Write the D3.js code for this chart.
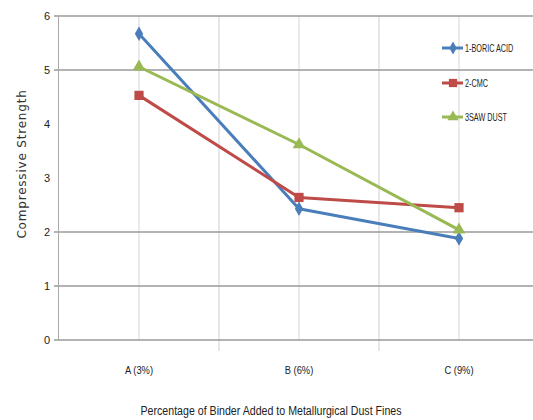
<!DOCTYPE html>
<html><head><meta charset="utf-8">
<script src="https://cdn.jsdelivr.net/npm/d3@7/dist/d3.min.js"></script>
<style>body{margin:0;background:#fff}svg{display:block}</style>
</head><body>
<script>
const categories = ["A (3%)", "B (6%)", "C (9%)"];
const boricAcid = [5.67, 2.43, 1.88];
const cmc = [4.53, 2.64, 2.45];
const sawDust = [5.06, 3.62, 2.04];
const seriesNames = ["1-BORIC ACID", "2-CMC", "3SAW DUST"];
const yTicks = [0, 1, 2, 3, 4, 5, 6];
const gridValues = [0, 1, 2, 5, 6];

const W = 533, H = 420;
const font = "'Liberation Sans',Arial,sans-serif";
const svg = d3.select("body").append("svg").attr("width", W).attr("height", H);

function squeeze(sel, k) {
  sel.each(function () {
    const w = this.getComputedTextLength();
    d3.select(this).attr("textLength", w * k).attr("lengthAdjust", "spacingAndGlyphs");
  });
}

const x = d3.scaleBand().domain(categories).range([59, 539]).paddingInner(0).paddingOuter(0);
const y = d3.scaleLinear().domain([0, 6]).range([340, 16]);

const g = svg.append("g");
categories.forEach((c, i) => {
  const cx = x(c) + x.bandwidth() / 2;
  g.append("line").attr("x1", cx).attr("x2", cx).attr("y1", y(6)).attr("y2", y(0))
    .attr("stroke", "#d6d6d6").attr("stroke-width", 1);
  if (i > 0) {
    g.append("line").attr("x1", x(c)).attr("x2", x(c)).attr("y1", y(6)).attr("y2", y(0) + 11)
      .attr("stroke", "#cfcfcf").attr("stroke-width", 1);
  }
});

gridValues.forEach(v => {
  g.append("line").attr("x1", 54).attr("x2", W).attr("y1", y(v)).attr("y2", y(v))
    .attr("stroke", "#9a9a9a").attr("stroke-width", 1.6);
});

g.append("line").attr("x1", 58.5).attr("x2", 58.5).attr("y1", y(6)).attr("y2", y(0))
  .attr("stroke", "#a8a8a8").attr("stroke-width", 1);

const yAxis = d3.axisLeft(y).tickValues(yTicks).tickSize(0).tickPadding(0).tickFormat(d3.format("d"));
const ya = svg.append("g").attr("transform", "translate(50,0)").call(yAxis);
ya.select(".domain").remove();
ya.selectAll("text").attr("font-family", font).attr("font-size", 11).attr("fill", "#222");

const xAxis = d3.axisBottom(x).tickSize(0).tickPadding(0);
const xa = svg.append("g").attr("transform", "translate(0,366)").call(xAxis);
xa.select(".domain").remove();
xa.selectAll("text").attr("font-family", font).attr("font-size", 11).attr("fill", "#222");
squeeze(xa.selectAll("text"), 0.85);

const xt = svg.append("text").attr("x", 271).attr("y", 415).attr("text-anchor", "middle")
  .attr("font-family", font).attr("font-size", 12.5).attr("fill", "#222")
  .text("Percentage of Binder Added to Metallurgical Dust Fines");
squeeze(xt, 0.85);

svg.append("text").attr("transform", "translate(26,164) rotate(-90)").attr("text-anchor", "middle")
  .attr("font-family", "'DejaVu Sans',sans-serif").attr("font-size", 12).attr("letter-spacing", 0.8).attr("fill", "#333")
  .text("Compressive Strength");

const series = [
  { name: seriesNames[0], values: boricAcid, color: "#4a7ebb", marker: d3.symbolDiamond, size: 60 },
  { name: seriesNames[1], values: cmc, color: "#be4b48", marker: d3.symbolSquare, size: 85 },
  { name: seriesNames[2], values: sawDust, color: "#98b954", marker: d3.symbolTriangle, size: 70 }
];

const line = d3.line().x((d, i) => x(categories[i]) + x.bandwidth() / 2).y(d => y(d));
series.forEach(s => {
  svg.append("path").attr("d", line(s.values)).attr("fill", "none")
    .attr("stroke", s.color).attr("stroke-width", 3).attr("stroke-linejoin", "round");
  s.values.forEach((v, i) => {
    svg.append("path").attr("d", d3.symbol().type(s.marker).size(s.size)())
      .attr("transform", `translate(${x(categories[i]) + x.bandwidth() / 2},${y(v)})`)
      .attr("fill", s.color);
  });
});

const legendY = [48, 83, 117];
series.forEach((s, i) => {
  const lg = svg.append("g").attr("transform", `translate(0,${legendY[i]})`);
  lg.append("line").attr("x1", 442).attr("x2", 463).attr("stroke", s.color).attr("stroke-width", 3);
  lg.append("path").attr("d", d3.symbol().type(s.marker).size(s.size * 0.8)()).attr("transform", "translate(453,0)").attr("fill", s.color);
  lg.append("g").attr("transform", "translate(465,0) scale(0.66,1)")
    .append("text").attr("x", 0).attr("y", 0).attr("dy", "0.35em")
    .attr("font-family", font).attr("font-size", 11).attr("fill", "#222").text(s.name);
});
</script>
</body></html>
